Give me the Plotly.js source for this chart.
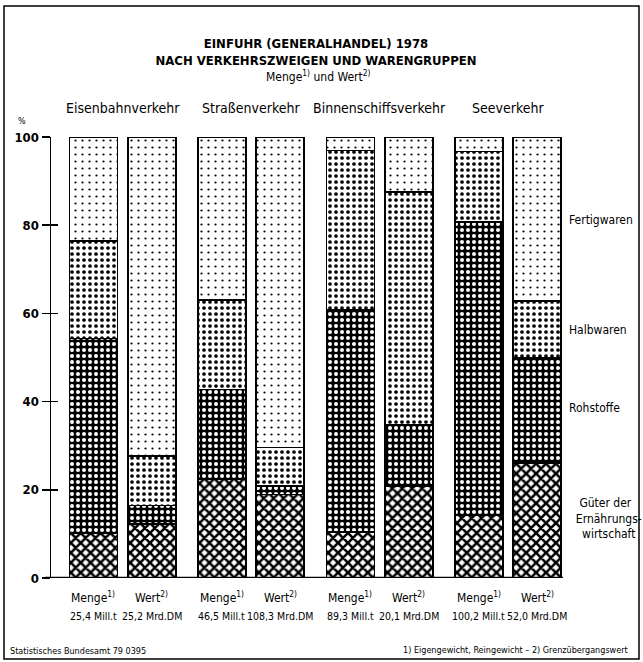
<!DOCTYPE html>
<html>
<head>
<meta charset="utf-8">
<script src="https://cdn.plot.ly/plotly-3.0.1.min.js"></script>
<style>
html,body{margin:0;padding:0;background:#fff;}
#chart{width:643px;height:662px;}
</style>
</head>
<body>
<div id="chart"></div>
<script>
// ---- data ----
const groups = ["Eisenbahnverkehr", "Straßenverkehr", "Binnenschiffsverkehr", "Seeverkehr"];
const kinds = ["Menge<sup>1)</sup>", "Wert<sup>2)</sup>"];
const totals = ["25,4 Mill.t", "25,2 Mrd.DM", "46,5 Mill.t", "108,3 Mrd.DM", "89,3 Mill.t", "20,1 Mrd.DM", "100,2 Mill.t", "52,0 Mrd.DM"];
// bar order: Eisen Menge, Eisen Wert, Straßen Menge, Straßen Wert, Binnen Menge, Binnen Wert, See Menge, See Wert
const ernaehrung = [10.2, 12.2, 22.3, 18.9, 10.5, 20.8, 14.3, 26.1];
const rohstoffe  = [44.1,  4.2, 20.4,  2.0, 50.4, 14.0, 66.4, 23.9];
const halbwaren  = [22.1, 11.2, 20.3,  8.7, 36.0, 52.7, 16.0, 12.8];
const fertigwaren= [23.6, 72.4, 37.0, 70.4,  3.1, 12.5,  3.3, 37.2];
const seriesNames = ["Güter der Ernährungswirtschaft", "Rohstoffe", "Halbwaren", "Fertigwaren"];
const yTicks = [0, 20, 40, 60, 80, 100];

// ---- layout geometry (pixels) ----
const W = 643, H = 662;
const ML = 51, MR = 62, MT = 137, MB = 84;
const PW = W - ML - MR, PH = H - MT - MB;
const px = x => (x - ML) / PW;          // page px -> paper x
const py = y => (H - MB - y) / PH;      // page px -> paper y
const groupStep = 128.5, groupStart = 71.5, pairOff = 29.2, barW = 48;
const xpos = [];
groups.forEach((g, gi) => { [-1, 1].forEach(s => xpos.push(groupStart + gi * groupStep + s * pairOff)); });

const FONT = "Liberation Sans Narrow, DejaVu Sans Condensed, Arial Narrow, sans-serif";

const styles = [
  {shape: "x", bg: "#ffffff", fg: "#000000", size: 7, solidity: 0.6},
  {shape: ".", bg: "#000000", fg: "#ffffff", size: 6, solidity: 0.36},
  {shape: ".", bg: "#ffffff", fg: "#000000", size: 6, solidity: 0.3},
  {shape: ".", bg: "#ffffff", fg: "#000000", size: 7, solidity: 0.08}
];
const values = [ernaehrung, rohstoffe, halbwaren, fertigwaren];

const traces = values.map((v, i) => ({
  type: "bar",
  name: seriesNames[i],
  x: xpos,
  y: v,
  width: barW,
  marker: {
    color: styles[i].bg,
    line: {color: "#000", width: 1.6},
    pattern: {shape: styles[i].shape, bgcolor: styles[i].bg, fgcolor: styles[i].fg,
              size: styles[i].size, solidity: styles[i].solidity, fillmode: "replace"}
  },
  hoverinfo: "skip"
}));
// dummy trace for the second y axis (inside tick marks)
traces.push({type: "scatter", x: [xpos[0]], y: [0], yaxis: "y2", mode: "none", showlegend: false, hoverinfo: "skip"});

const annotations = [];
function ann(text, x, y, opts) {
  annotations.push(Object.assign({text: text, x: x, y: y, xref: "paper", yref: "paper", showarrow: false,
    xanchor: "center", yanchor: "middle",
    font: {family: FONT, size: 12, color: "#000"}}, opts || {}));
}
// subtitle
ann("Menge<sup>1)</sup> und Wert<sup>2)</sup>", px(318), py(76), {font: {family: FONT, size: 12, color: "#000"}});
// group headings
groups.forEach((g, gi) => {
  annotations.push({text: g, x: groupStart + gi * groupStep, xref: "x", y: py(108), yref: "paper", showarrow: false,
    xanchor: "center", yanchor: "middle", font: {family: FONT, size: 14, color: "#000"}});
});
// percent sign
ann("%", px(22), py(121), {font: {family: FONT, size: 9, color: "#000"}});
// bar labels below
xpos.forEach((x, i) => {
  annotations.push({text: kinds[i % 2], x: x, xref: "x", y: py(597), yref: "paper", showarrow: false,
    xanchor: "center", yanchor: "middle", font: {family: FONT, size: 12, color: "#000"}});
  annotations.push({text: totals[i], x: x, xref: "x", y: py(616), yref: "paper", showarrow: false,
    xanchor: "center", yanchor: "middle", font: {family: FONT, size: 10.5, color: "#000"}});
});
// category labels on the right
ann("Fertigwaren", px(567), py(220), {xanchor: "left"});
ann("Halbwaren", px(567), py(330), {xanchor: "left"});
ann("Rohstoffe", px(567), py(408), {xanchor: "left"});
ann("Güter der<br>  Ernährungs-<br>  wirtschaft", px(567), py(518), {xanchor: "left", align: "center"});
// footer
ann("Statistisches Bundesamt 79 0395", px(8), py(651), {xanchor: "left", font: {family: FONT, size: 9, color: "#000"}});
ann("1) Eigengewicht, Reingewicht – 2) Grenzübergangswert", px(630), py(650), {xanchor: "right", font: {family: FONT, size: 9, color: "#000"}});

const shapes = [
  // outer frame
  {type: "rect", xref: "paper", yref: "paper", x0: px(4), x1: px(639), y0: py(659), y1: py(6),
   line: {color: "#000", width: 1.5}, fillcolor: "rgba(0,0,0,0)", layer: "below"},
  // baseline
  {type: "line", xref: "paper", yref: "y", x0: px(45), x1: px(563), y0: 0, y1: 0,
   line: {color: "#000", width: 2.5}}
];

const layout = {
  width: W, height: H,
  margin: {l: ML, r: MR, t: MT, b: MB, pad: 0},
  paper_bgcolor: "#fff", plot_bgcolor: "rgba(0,0,0,0)",
  showlegend: false,
  barmode: "stack",
  title: {
    text: "<b>EINFUHR (GENERALHANDEL) 1978<br>NACH VERKEHRSZWEIGEN UND WARENGRUPPEN</b>",
    x: 0.5, xref: "paper", xanchor: "center",
    y: 1 - 48 / H, yref: "container", yanchor: "top",
    font: {family: FONT, size: 13, color: "#000"}
  },
  xaxis: {range: [0, PW], visible: false, fixedrange: true},
  yaxis: {
    range: [0, 100], tickvals: yTicks, ticktext: yTicks.map(String),
    ticks: "outside", ticklen: 8, tickwidth: 1.5, tickcolor: "#000",
    showline: true, linecolor: "#000", linewidth: 1.5,
    showgrid: false, zeroline: false, ticklabelstandoff: 0,
    tickfont: {family: FONT, size: 13, color: "#000", weight: "bold"}
  },
  yaxis2: {
    range: [0, 100], overlaying: "y", side: "left", tickvals: yTicks,
    ticks: "inside", ticklen: 7, tickwidth: 1.5, tickcolor: "#000",
    showticklabels: false, showline: false, showgrid: false, zeroline: false
  },
  annotations: annotations,
  shapes: shapes
};

Plotly.newPlot("chart", traces, layout, {displayModeBar: false, staticPlot: true});
</script>
</body>
</html>
